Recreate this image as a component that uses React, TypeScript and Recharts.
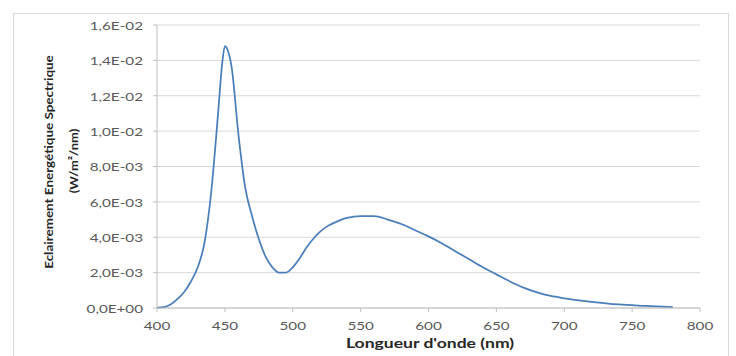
import React from 'react';
import { LineChart, Line, XAxis, YAxis, CartesianGrid } from 'recharts';

const wavelengths = [400, 405, 410, 415, 420, 425, 430, 435, 440, 445, 448, 450, 452, 455, 460, 465, 470, 475, 480, 485, 490, 495, 500, 505, 510, 515, 520, 525, 530, 540, 550, 560, 570, 580, 590, 600, 610, 620, 630, 640, 650, 660, 670, 680, 690, 700, 720, 740, 760, 780];
const irradiance = [0.00002, 0.00005, 0.0002, 0.0005, 0.0009, 0.0015, 0.0023, 0.0037, 0.0066, 0.0110, 0.0138, 0.0148, 0.0146, 0.0136, 0.0098, 0.0068, 0.0052, 0.0039, 0.0029, 0.0023, 0.0020, 0.0020, 0.0023, 0.0028, 0.0034, 0.0039, 0.0043, 0.0046, 0.0048, 0.0051, 0.0052, 0.0052, 0.0050, 0.00475, 0.0044, 0.00405, 0.00365, 0.0032, 0.00275, 0.0023, 0.0019, 0.0015, 0.00115, 0.00088, 0.00068, 0.00055, 0.00035, 0.0002, 0.00012, 0.00005];
const xTicks = [400, 450, 500, 550, 600, 650, 700, 750, 800];
const yTicks = [0, 0.002, 0.004, 0.006, 0.008, 0.01, 0.012, 0.014, 0.016];
const yTickLabels = ['0,0E+00', '2,0E-03', '4,0E-03', '6,0E-03', '8,0E-03', '1,0E-02', '1,2E-02', '1,4E-02', '1,6E-02'];
const xTitle = "Longueur d'onde (nm)";
const yTitle1 = 'Eclairement Energétique  Spectrique';
const yTitle2 = '(W/m²/nm)';

const data = wavelengths.map((w, i) => ({ w, v: irradiance[i] }));

const FONT = 'Lato, "Open Sans", sans-serif';
const STRETCH = 1.27;

const YTitle = () => (
  <g>
    <g transform="translate(48 162) rotate(-90) scale(1.12 1)">
      <text x={0} y={0} textAnchor="middle" dominantBaseline="central" fontFamily={FONT} fontWeight="bold" fontSize={12} fill="#262626">{yTitle1}</text>
    </g>
    <g transform="translate(74 161) rotate(-90) scale(1.08 1)">
      <text x={0} y={0} textAnchor="middle" dominantBaseline="central" fontFamily={FONT} fontWeight="bold" fontSize={12} fill="#262626">{yTitle2}</text>
    </g>
  </g>
);

const XTitle = () => (
  <g transform="translate(430 343) scale(1.35 1)">
    <text x={0} y={0} textAnchor="middle" dominantBaseline="central" fontFamily={FONT} fontWeight="bold" fontSize={13} fill="#262626">{xTitle}</text>
  </g>
);

const YTick = (props: any) => {
  const { y, payload } = props;
  const idx = yTicks.findIndex((t) => Math.abs(t - payload.value) < 1e-9);
  return (
    <g transform={`translate(143 ${y}) scale(${STRETCH} 1)`}>
      <text x={0} y={0} textAnchor="end" dominantBaseline="central" fontFamily={FONT} fontSize={12} fill="#595959">{yTickLabels[idx] ?? ''}</text>
    </g>
  );
};

const XTick = (props: any) => {
  const { x, payload } = props;
  return (
    <g transform={`translate(${x} 325) scale(${STRETCH} 1)`}>
      <text x={0} y={0} textAnchor="middle" dominantBaseline="central" fontFamily={FONT} fontSize={12} fill="#595959">{payload.value}</text>
    </g>
  );
};

export default function App() {
  return (
    <div style={{ position: 'absolute', left: 0, top: 0, width: 736, height: 356, background: '#fff', overflow: 'hidden' }}>
      <div style={{ position: 'absolute', left: 13, top: 13, width: 716, height: 360, border: '1px solid #D9D9D9', boxSizing: 'border-box' }} />
      <div style={{ position: 'absolute', left: 0, top: 0 }}>
        <LineChart width={736} height={356} data={data} margin={{ top: 25, right: 36, bottom: 18, left: 97 }}>
          <CartesianGrid vertical={false} stroke="#D9D9D9" strokeWidth={1} />
          <XAxis
            dataKey="w"
            type="number"
            domain={[400, 800]}
            ticks={xTicks}
            height={30}
            tickSize={4}
            stroke="#BFBFBF"
            tick={<XTick />}
            interval={0}
            label={{ content: () => <XTitle /> }}
          />
          <YAxis
            type="number"
            domain={[0, 0.016]}
            ticks={yTicks}
            width={60}
            tickSize={4}
            stroke="#BFBFBF"
            tick={<YTick />}
            interval={0}
            label={{ content: () => <YTitle /> }}
          />
          <Line type="monotone" dataKey="v" stroke="#4A7EBB" strokeWidth={1.75} dot={false} isAnimationActive={false} />
        </LineChart>
      </div>
    </div>
  );
}
